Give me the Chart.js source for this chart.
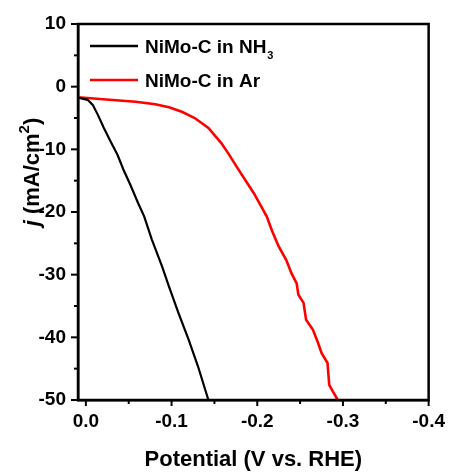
<!DOCTYPE html>
<html>
<head>
<meta charset="utf-8">
<script src="https://cdn.jsdelivr.net/npm/chart.js@4.4.1/dist/chart.umd.min.js"></script>
<style>
  html, body { margin: 0; padding: 0; background: #fff; }
  #wrap { width: 455px; height: 473px; }
</style>
</head>
<body>
<div id="wrap"><canvas id="lsvChart" width="455" height="473"></canvas></div>
<script>
// potential (V vs. RHE) and current density (mA/cm2)
const potentialNH3 = [0.009, -0.002, -0.008, -0.014, -0.021, -0.029, -0.037, -0.044, -0.052, -0.061, -0.068, -0.077, -0.089, -0.097, -0.108, -0.120, -0.131, -0.143];
const currentNH3   = [-1.75, -2.1, -2.9, -4.5, -6.6, -8.8, -10.9, -13.3, -15.7, -18.6, -20.7, -24.4, -28.7, -31.9, -36.1, -40.4, -44.7, -50];

const potentialAr = [0.009, -0.02, -0.058, -0.081, -0.097, -0.112, -0.127, -0.143, -0.158, -0.166, -0.177, -0.196, -0.211, -0.217, -0.225, -0.234, -0.240, -0.246, -0.248, -0.254, -0.257, -0.265, -0.271, -0.275, -0.282, -0.284, -0.288, -0.294];
const currentAr   = [-1.7, -2.0, -2.4, -2.8, -3.3, -4.0, -5.0, -6.6, -9.0, -10.6, -13.0, -17.0, -20.7, -22.9, -25.5, -27.7, -29.8, -31.4, -33.2, -34.5, -37.2, -38.8, -40.9, -42.5, -44.1, -47.6, -48.6, -50];

const seriesNames = ['NiMo-C in NH', 'NiMo-C in Ar'];
const seriesSub = ['3', ''];
const seriesColors = ['#000000', '#ff0000'];

const xTitle = 'Potential (V vs. RHE)';
const yTitleParts = ['j', ' (mA/cm', '2', ')'];

const FONT = "'Liberation Sans', Arial, sans-serif";

function toPoints(xs, ys) {
    return xs.map((x, i) => ({ x: x, y: ys[i] }));
}

// frame, minor/major tick marks, y title and the legend
const extras = {
    id: 'extras',
    afterDraw(chart) {
        const ctx = chart.ctx;
        const area = chart.chartArea;
        const xs = chart.scales.x;
        const ys = chart.scales.y;
        ctx.save();
        ctx.strokeStyle = '#000';
        ctx.lineWidth = 2.5;
        ctx.strokeRect(area.left, area.top, area.right - area.left, area.bottom - area.top);

        // tick marks
        ctx.lineWidth = 2;
        const xt = xs.ticks.map(t => t.value);
        xt.forEach((v, i) => {
            const px = xs.getPixelForValue(v);
            ctx.beginPath(); ctx.moveTo(px, area.bottom); ctx.lineTo(px, area.bottom + 6); ctx.stroke();
            if (i < xt.length - 1) {
                const mx = xs.getPixelForValue((v + xt[i + 1]) / 2);
                ctx.beginPath(); ctx.moveTo(mx, area.bottom); ctx.lineTo(mx, area.bottom + 4); ctx.stroke();
            }
        });
        const yt = ys.ticks.map(t => t.value);
        yt.forEach((v, i) => {
            const py = ys.getPixelForValue(v);
            ctx.beginPath(); ctx.moveTo(area.left, py); ctx.lineTo(area.left - 7, py); ctx.stroke();
            if (i < yt.length - 1) {
                const my = ys.getPixelForValue((v + yt[i + 1]) / 2);
                ctx.beginPath(); ctx.moveTo(area.left, my); ctx.lineTo(area.left - 4, my); ctx.stroke();
            }
        });

        // y title
        ctx.fillStyle = '#000';
        ctx.translate(39, 172);
        ctx.rotate(-Math.PI / 2);
        ctx.textBaseline = 'alphabetic';
        ctx.textAlign = 'left';
        const fonts = ['italic bold 22px ' + FONT, 'bold 22px ' + FONT, 'bold 15px ' + FONT, 'bold 22px ' + FONT];
        const offs = [0, 0, -10, 0];
        let total = 0;
        const widths = yTitleParts.map((p, i) => { ctx.font = fonts[i]; const w = ctx.measureText(p).width; total += w; return w; });
        let cx = -total / 2;
        yTitleParts.forEach((p, i) => {
            ctx.font = fonts[i];
            ctx.fillText(p, cx, offs[i]);
            cx += widths[i];
        });
        ctx.restore();

        // legend
        ctx.save();
        const rows = [46, 80];
        seriesNames.forEach((name, i) => {
            ctx.strokeStyle = seriesColors[i];
            ctx.lineWidth = 2.5;
            ctx.beginPath(); ctx.moveTo(90, rows[i]); ctx.lineTo(138, rows[i]); ctx.stroke();
            ctx.fillStyle = '#000';
            ctx.font = 'bold 19px ' + FONT;
            ctx.textBaseline = 'alphabetic';
            ctx.fillText(name, 145, rows[i] + 7);
            if (seriesSub[i]) {
                const w = ctx.measureText(name).width;
                ctx.font = 'bold 11px ' + FONT;
                ctx.fillText(seriesSub[i], 145 + w + 1, rows[i] + 13);
            }
        });
        ctx.restore();
    }
};

new Chart(document.getElementById('lsvChart'), {
    type: 'scatter',
    data: {
        datasets: [
            {
                label: seriesNames[0] + seriesSub[0],
                data: toPoints(potentialNH3, currentNH3),
                showLine: true,
                borderColor: seriesColors[0],
                borderWidth: 2.2,
                pointRadius: 0,
                tension: 0
            },
            {
                label: seriesNames[1],
                data: toPoints(potentialAr, currentAr),
                showLine: true,
                borderColor: seriesColors[1],
                borderWidth: 2.6,
                pointRadius: 0,
                tension: 0
            }
        ]
    },
    options: {
        responsive: false,
        devicePixelRatio: 1,
        animation: false,
        layout: { padding: { left: 0, right: 20, top: 24, bottom: 0 } },
        plugins: { legend: { display: false }, tooltip: { enabled: false } },
        scales: {
            x: {
                type: 'linear',
                reverse: true,
                min: -0.4,
                max: 0.0092,
                grid: { display: false, drawTicks: false },
                border: { display: true, color: '#000', width: 2.5 },
                ticks: {
                    stepSize: 0.1,
                    includeBounds: false,
                    padding: 10,
                    color: '#000',
                    font: { family: FONT, size: 19, weight: 'bold' },
                    callback: v => (Math.abs(v) < 1e-9 ? '0.0' : v.toFixed(1))
                },
                title: {
                    display: true,
                    text: xTitle,
                    color: '#000',
                    font: { family: FONT, size: 22, weight: 'bold' },
                    padding: { top: 6, bottom: 0 }
                },
                afterFit(scale) { scale.height = 73; }
            },
            y: {
                type: 'linear',
                min: -50,
                max: 10,
                grid: { display: false, drawTicks: false },
                border: { display: true, color: '#000', width: 2.5 },
                ticks: {
                    stepSize: 10,
                    padding: 12,
                    color: '#000',
                    font: { family: FONT, size: 19, weight: 'bold' }
                },
                afterFit(scale) { scale.width = 78; }
            }
        }
    },
    plugins: [extras]
});
</script>
</body>
</html>
